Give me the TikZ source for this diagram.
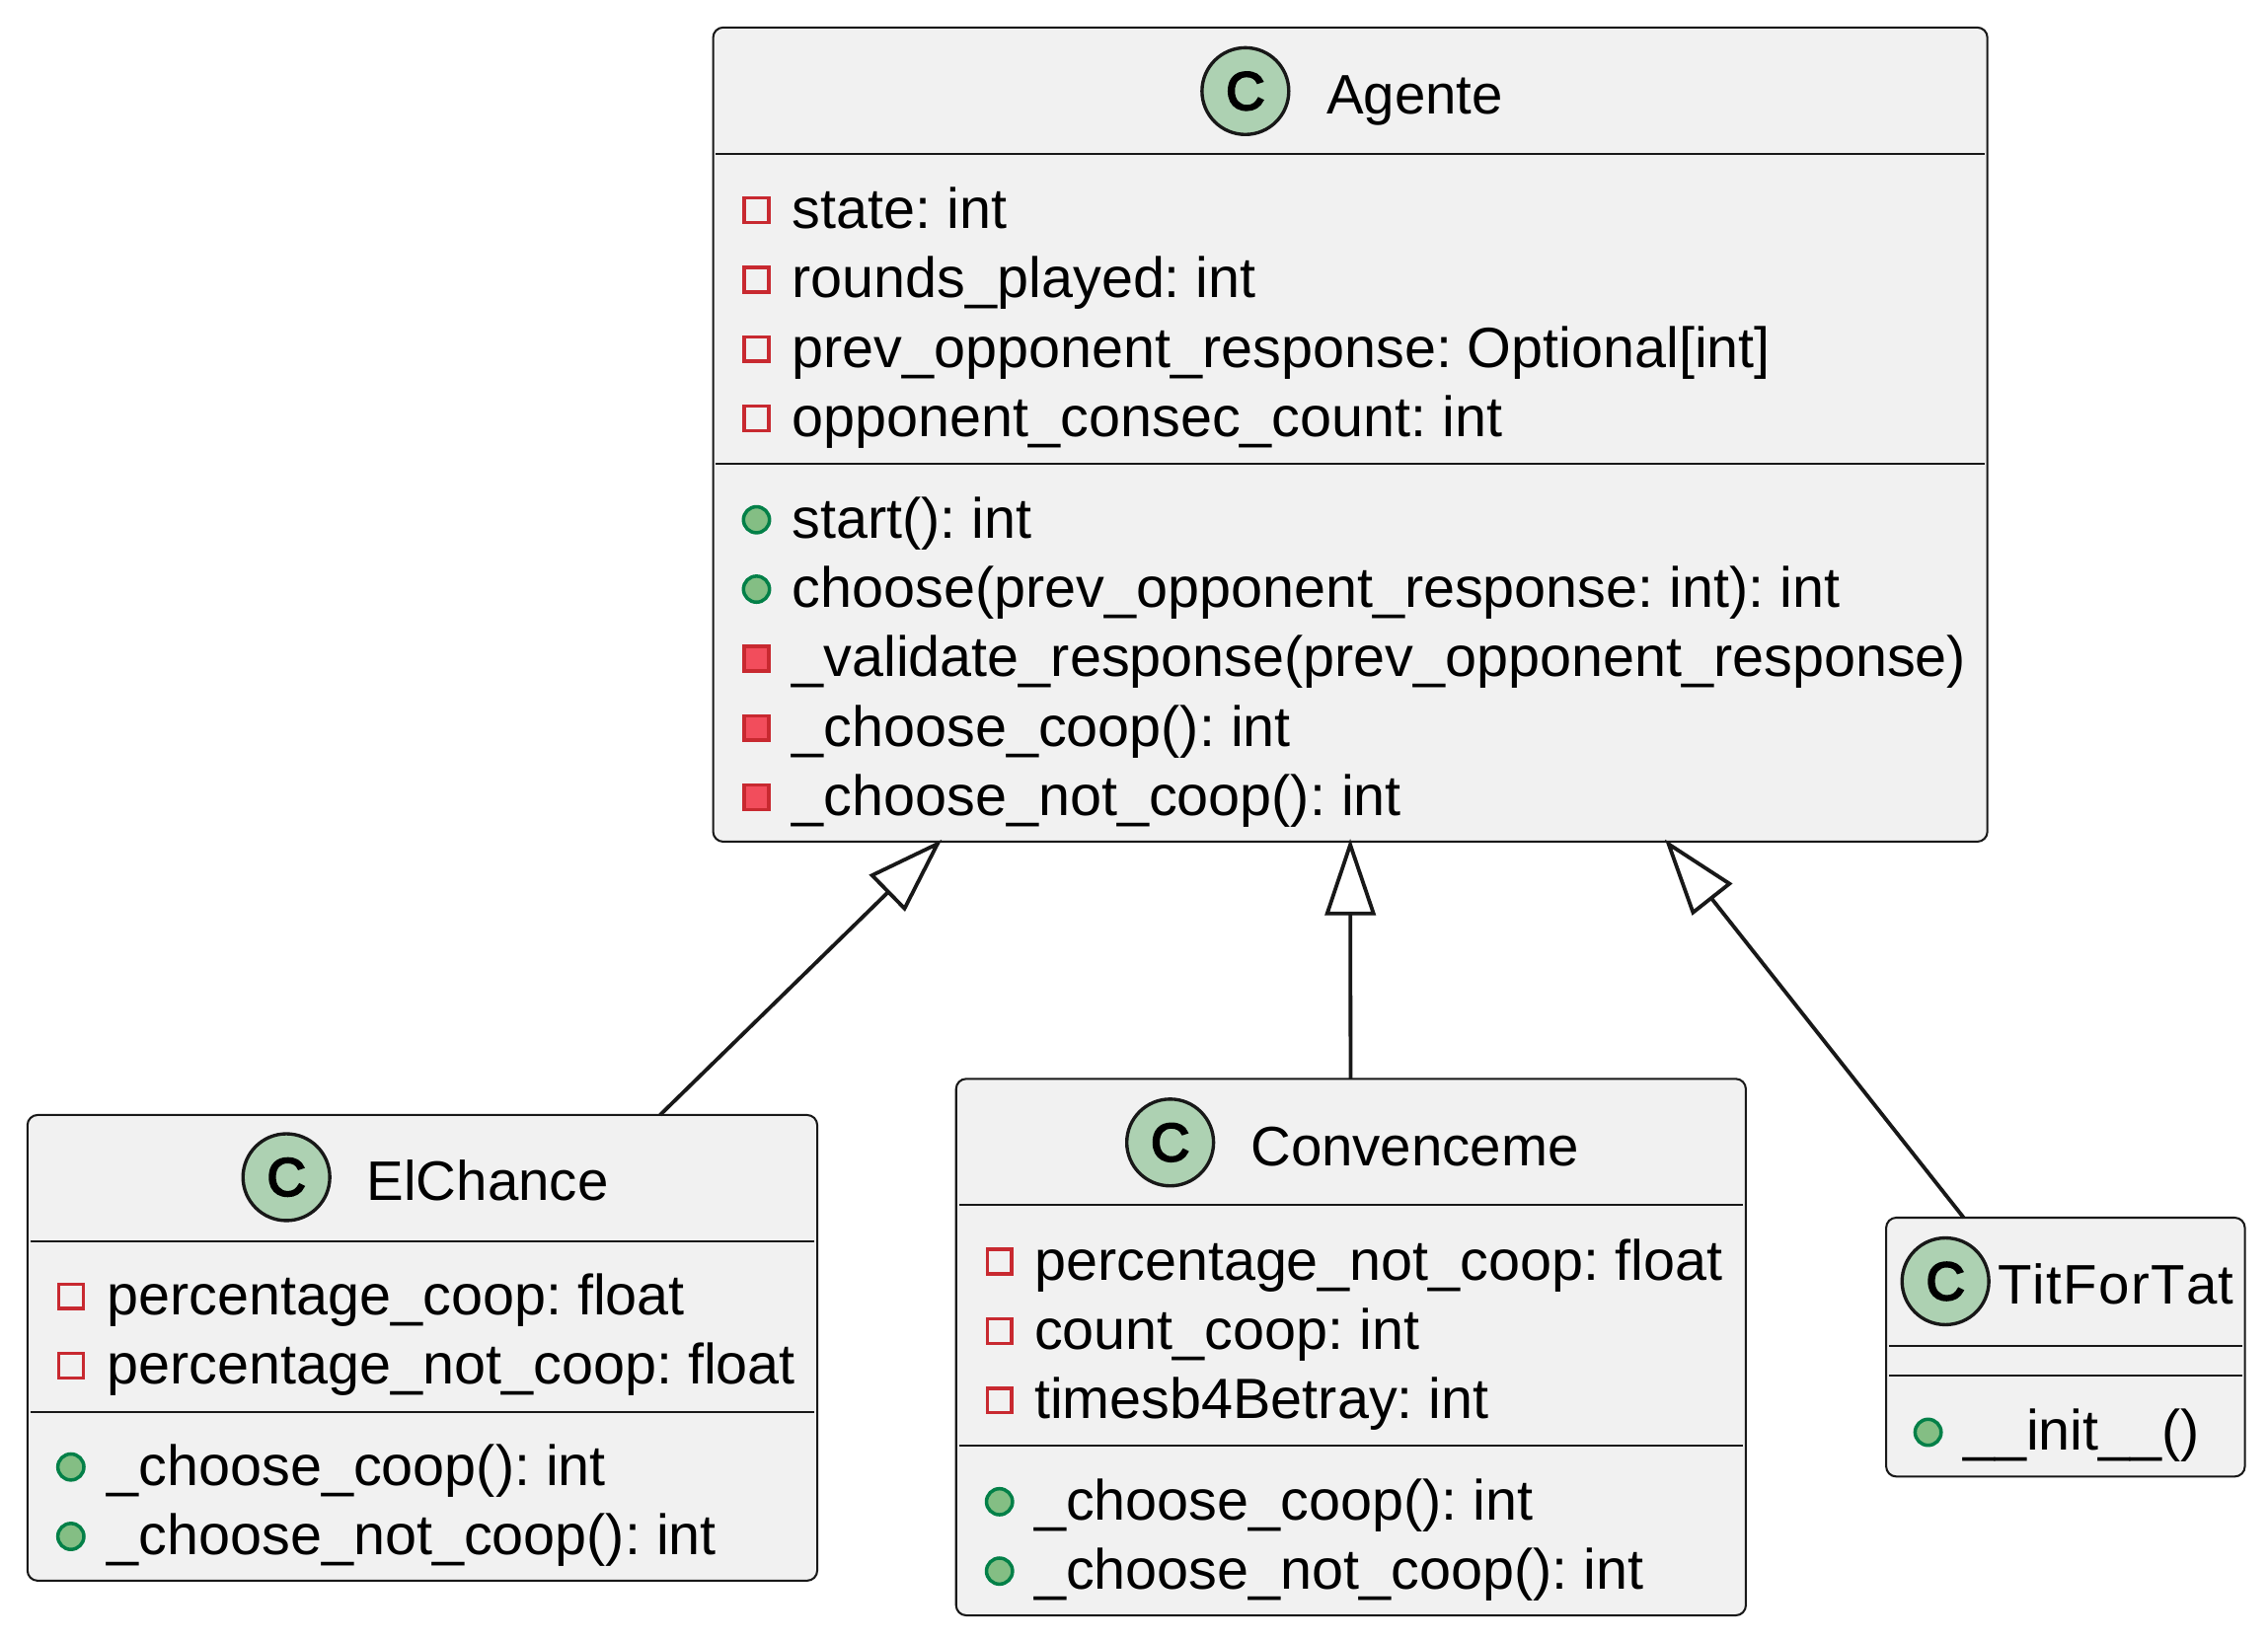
\documentclass[tikz,border=0pt]{standalone}
\usepackage{fontspec}
\setmainfont[Kerning=Off]{Liberation Sans}
\newfontfamily\spotfont[FakeBold=4]{Liberation Sans}
\usetikzlibrary{arrows.meta}
\definecolor{boxfill}{HTML}{F1F1F1}
\definecolor{boxline}{HTML}{181818}
\definecolor{spotfill}{HTML}{ADD1B2}
\definecolor{privline}{HTML}{C82930}
\definecolor{privfill}{HTML}{F24D5C}
\definecolor{publine}{HTML}{038048}
\definecolor{pubfill}{HTML}{84BE84}
\tikzset{
  classbox/.style={draw=boxline,fill=boxfill,line width=1.4pt,rounded corners=7pt,inner sep=0pt,outer sep=0pt},
  divider/.style={draw=boxline,line width=1.3pt},
  spot/.style={circle,draw=boxline,fill=spotfill,line width=2.3pt,minimum size=60pt,inner sep=0pt,outer sep=0pt,font=\fontsize{37}{37}\spotfont},
  titletext/.style={anchor=base west,inner sep=0pt,font=\fontsize{38.5}{48}\selectfont\frenchspacing},
  member/.style={anchor=base west,inner sep=0pt,font=\fontsize{39.25}{48}\selectfont\frenchspacing},
  privfield/.style={rectangle,draw=privline,line width=2.4pt,minimum size=17pt,inner sep=0pt},
  privmethod/.style={rectangle,draw=privline,fill=privfill,line width=2.4pt,minimum size=17pt,inner sep=0pt},
  pubmethod/.style={circle,draw=publine,fill=pubfill,line width=2.4pt,minimum size=18pt,inner sep=0pt},
  extends/.style={draw=boxline,line width=2.6pt,shorten >=-2pt,-{Triangle[fill=white,length=53pt,width=35pt]}}
}
\begin{document}
\begin{tikzpicture}[x=1pt,y=-1pt]
  \useasboundingbox (0,0) rectangle (1568,1134);
  % boxes
  \node[classbox,minimum width=881pt,minimum height=563pt] (agente) at (933.5,300.5) {};
  \node[classbox,minimum width=546pt,minimum height=322pt] (elchance) at (292,932) {};
  \node[classbox,minimum width=546pt,minimum height=371pt] (convenceme) at (934,931.5) {};
  \node[classbox,minimum width=248pt,minimum height=179pt] (titfortat) at (1428,931.5) {};
  % Agente
  \node[spot] (agentespot) at (861,63) {C};
  \node[titletext] (agentetitle) at (917,79) {Agente};
  \draw[divider] (495,106.4)--(1372,106.4);
  \draw[divider] (495,320.4)--(1372,320.4);
  \node[privfield] (agmark1) at (523,145.4) {};
  \node[member] (agrow1) at (547.5,158) {state: int};
  \node[privfield] (agmark2) at (523,193.4) {};
  \node[member] (agrow2) at (547.5,206) {rounds\_played: int};
  \node[privfield] (agmark3) at (523,241.4) {};
  \node[member] (agrow3) at (547.5,254) {prev\_opponent\_response: Optional[int]};
  \node[privfield] (agmark4) at (523,289.4) {};
  \node[member] (agrow4) at (547.5,302) {opponent\_consec\_count: int};
  \node[pubmethod] (agmark5) at (523,359.4) {};
  \node[member] (agrow5) at (547.5,372) {start(): int};
  \node[pubmethod] (agmark6) at (523,407.4) {};
  \node[member] (agrow6) at (547.5,420) {choose(prev\_opponent\_response: int): int};
  \node[privmethod] (agmark7) at (523,455.4) {};
  \node[member] (agrow7) at (547.5,468) {\_validate\_response(prev\_opponent\_response)};
  \node[privmethod] (agmark8) at (523,503.4) {};
  \node[member] (agrow8) at (547.5,516) {\_choose\_coop(): int};
  \node[privmethod] (agmark9) at (523,551.4) {};
  \node[member] (agrow9) at (547.5,564) {\_choose\_not\_coop(): int};
  % ElChance
  \node[spot] (elchancespot) at (198,814) {C};
  \node[titletext] (elchancetitle) at (253.5,830) {ElChance};
  \draw[divider] (21,858.4)--(563,858.4);
  \draw[divider] (21,976.4)--(563,976.4);
  \node[privfield] (elmark1) at (49,896.4) {};
  \node[member] (elrow1) at (74,909) {percentage\_coop: float};
  \node[privfield] (elmark2) at (49,944.4) {};
  \node[member] (elrow2) at (74,957) {percentage\_not\_coop: float};
  \node[pubmethod] (elmark3) at (49,1014.4) {};
  \node[member] (elrow3) at (74,1027) {\_choose\_coop(): int};
  \node[pubmethod] (elmark4) at (49,1062.4) {};
  \node[member] (elrow4) at (74,1075) {\_choose\_not\_coop(): int};
  % Convenceme
  \node[spot] (convencemespot) at (809,790) {C};
  \node[titletext] (convencemetitle) at (864.5,806) {Convenceme};
  \draw[divider] (663,833.4)--(1205,833.4);
  \draw[divider] (663,999.4)--(1205,999.4);
  \node[privfield] (comark1) at (691,872.4) {};
  \node[member] (corow1) at (715,885) {percentage\_not\_coop: float};
  \node[privfield] (comark2) at (691,920.4) {};
  \node[member] (corow2) at (715,933) {count\_coop: int};
  \node[privfield] (comark3) at (691,968.4) {};
  \node[member] (corow3) at (715,981) {timesb4Betray: int};
  \node[pubmethod] (comark4) at (691,1038.4) {};
  \node[member] (corow4) at (715,1051) {\_choose\_coop(): int};
  \node[pubmethod] (comark5) at (691,1086.4) {};
  \node[member] (corow5) at (715,1099) {\_choose\_not\_coop(): int};
  % TitForTat
  \node[spot] (titfortatspot) at (1345,886) {C};
  \node[titletext] (titfortattitle) at (1381,902) {\addfontfeature{LetterSpace=2.3}TitForTat};
  \draw[divider] (1306,930.4)--(1550,930.4);
  \draw[divider] (1306,951.4)--(1550,951.4);
  \node[pubmethod] (titmark1) at (1333,990.4) {};
  \node[member] (titrow1) at (1357,1003) {\_\_init\_\_()};
  % inheritance
  \draw[extends] (elchance)--(agente);
  \draw[extends] (convenceme)--(agente.south);
  \draw[extends] (titfortat)--(agente);
\end{tikzpicture}
\end{document}
